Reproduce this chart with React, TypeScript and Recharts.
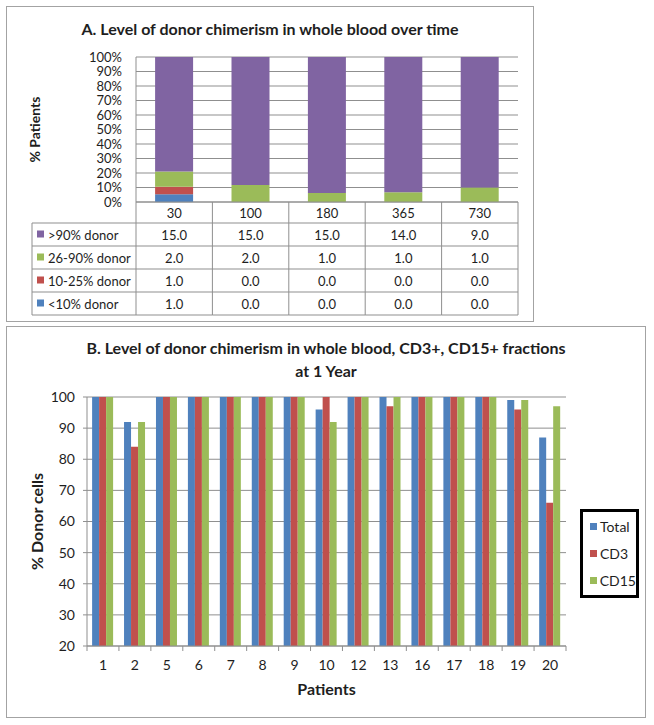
import React from 'react';
import { BarChart, Bar, XAxis, YAxis, CartesianGrid, Legend } from 'recharts';

// Panel A: patients per chimerism level, by day after transplant
const days = ['30', '100', '180', '365', '730'];
const above90 = [15, 15, 15, 14, 9];
const from26to90 = [2, 2, 1, 1, 1];
const from10to25 = [1, 0, 0, 0, 0];
const below10 = [1, 0, 0, 0, 0];
const percentTicks = [0, 0.1, 0.2, 0.3, 0.4, 0.5, 0.6, 0.7, 0.8, 0.9, 1];

// Panel B: % donor cells at 1 year, per patient
const patients = ['1', '2', '5', '6', '7', '8', '9', '10', '12', '13', '16', '17', '18', '19', '20'];
const total = [100, 92, 100, 100, 100, 100, 100, 96, 100, 100, 100, 100, 100, 99, 87];
const cd3 = [100, 84, 100, 100, 100, 100, 100, 100, 100, 97, 100, 100, 100, 96, 66];
const cd15 = [100, 92, 100, 100, 100, 100, 100, 92, 100, 100, 100, 100, 100, 99, 97];
const donorTicks = [20, 30, 40, 50, 60, 70, 80, 90, 100];

const FONT = 'Lato, "Open Sans", sans-serif';
const GRID = '#8f8f8f';
const TEXT = '#1e1e1e';
const PANEL_BORDER = '1px solid #a3a3a3';

const seriesA = [
  { key: 'gt90', name: '>90% donor', color: '#8064A2', values: above90 },
  { key: 'mid', name: '26-90% donor', color: '#9BBB59', values: from26to90 },
  { key: 'low', name: '10-25% donor', color: '#C0504D', values: from10to25 },
  { key: 'lt10', name: '<10% donor', color: '#4F81BD', values: below10 },
];

const seriesB = [
  { key: 'total', name: 'Total', color: '#4F81BD', values: total },
  { key: 'cd3', name: 'CD3', color: '#C0504D', values: cd3 },
  { key: 'cd15', name: 'CD15', color: '#9BBB59', values: cd15 },
];

const dataA = days.map((day, i) => {
  const row: Record<string, string | number> = { day };
  seriesA.forEach((s) => (row[s.key] = s.values[i]));
  return row;
});

const dataB = patients.map((patient, i) => {
  const row: Record<string, string | number> = { patient };
  seriesB.forEach((s) => (row[s.key] = s.values[i]));
  return row;
});

// chart A geometry
const A_W = 528;
const A_H = 316;
const A_MARGIN = { top: 51, right: 16, bottom: 7, left: 0 };
const A_YAXIS_W = 130;
const A_BAND = (A_W - A_MARGIN.left - A_MARGIN.right - A_YAXIS_W) / days.length;
const HEAD_ROW = 21;
const ROW = 23;
const LEGEND_COL = 104;

// chart B geometry
const B_W = 640;
const B_H = 392;
const B_MARGIN = { top: 71, right: 80, bottom: 12, left: 0 };
const B_YAXIS_W = 81;
const B_BAND = (B_W - B_MARGIN.left - B_MARGIN.right - B_YAXIS_W) / patients.length;

// x-axis tick of chart A: draws the whole data-table column under each category
const TableTick = (props: any) => {
  const { x, y, payload } = props;
  const i = payload.index;
  const left = x - A_BAND / 2;
  const right = x + A_BAND / 2;
  const bottom = y + HEAD_ROW + ROW * seriesA.length;
  return (
    <g fontFamily={FONT} fontSize={13} fill={TEXT}>
      <line x1={right} y1={y} x2={right} y2={bottom} stroke={GRID} />
      <text x={x} y={y + HEAD_ROW / 2 + 5} textAnchor="middle" fill={TEXT}>
        {payload.value}
      </text>
      {seriesA.map((s, r) => {
        const top = y + HEAD_ROW + r * ROW;
        return (
          <g key={s.key}>
            <line x1={left} y1={top} x2={right} y2={top} stroke={GRID} />
            <text x={x} y={top + ROW / 2 + 5} textAnchor="middle" fill={TEXT}>
              {s.values[i].toFixed(1)}
            </text>
          </g>
        );
      })}
      <line x1={left} y1={bottom} x2={right} y2={bottom} stroke={GRID} />
      {i === 0 && (
        <g>
          <line x1={left} y1={y} x2={left} y2={bottom} stroke={GRID} />
          <line x1={left - LEGEND_COL} y1={y + HEAD_ROW} x2={left - LEGEND_COL} y2={bottom} stroke={GRID} />
          {seriesA.map((s, r) => {
            const top = y + HEAD_ROW + r * ROW;
            return (
              <g key={s.key}>
                <line x1={left - LEGEND_COL} y1={top} x2={left} y2={top} stroke={GRID} />
                <rect x={left - LEGEND_COL + 5} y={top + ROW / 2 - 4} width={7} height={7} fill={s.color} />
                <text x={left - LEGEND_COL + 16} y={top + ROW / 2 + 5} fill={TEXT}>
                  {s.name}
                </text>
              </g>
            );
          })}
          <line x1={left - LEGEND_COL} y1={bottom} x2={left} y2={bottom} stroke={GRID} />
        </g>
      )}
    </g>
  );
};

const PatientTick = (props: any) => {
  const { x, y, payload } = props;
  const last = payload.index === patients.length - 1;
  return (
    <g>
      <line x1={x - B_BAND / 2} y1={y} x2={x - B_BAND / 2} y2={y + 5} stroke={GRID} />
      {last && <line x1={x + B_BAND / 2} y1={y} x2={x + B_BAND / 2} y2={y + 5} stroke={GRID} />}
      <text x={x} y={y + 24} textAnchor="middle" fontFamily={FONT} fontSize={14} fill={TEXT}>
        {payload.value}
      </text>
    </g>
  );
};

const LegendBox = ({ payload }: any) => {
  const items = [...(payload || [])].sort(
    (a: any, b: any) =>
      seriesB.findIndex((s) => s.key === a.dataKey) - seriesB.findIndex((s) => s.key === b.dataKey)
  );
  return (
    <div
      style={{
        border: '3px solid #000',
        background: '#fff',
        padding: '1px 0 1px 7px',
        fontFamily: FONT,
        fontSize: 14,
        color: TEXT,
      }}
    >
      {items.map((p: any) => (
        <div key={p.dataKey} style={{ display: 'flex', alignItems: 'center', height: 27 }}>
          <span style={{ width: 7, height: 7, background: p.color, marginRight: 3, display: 'inline-block' }} />
          {p.value}
        </div>
      ))}
    </div>
  );
};

const verticalLabel = (text: string, x: number, size: number) => (props: any) => {
  const { viewBox } = props;
  const cy = viewBox.y + viewBox.height / 2;
  return (
    <text
      x={x}
      y={cy}
      transform={`rotate(-90, ${x}, ${cy})`}
      textAnchor="middle"
      fontFamily={FONT}
      fontWeight="bold"
      fontSize={size}
      fill={TEXT}
    >
      {text}
    </text>
  );
};

const titleStyle: React.CSSProperties = {
  position: 'absolute',
  left: 0,
  width: '100%',
  textAlign: 'center',
  fontFamily: FONT,
  fontWeight: 'bold',
  fontSize: 16,
  color: TEXT,
};

export default function App() {
  return (
    <div style={{ position: 'absolute', left: 0, top: 0, width: 654, height: 725, background: '#fff' }}>
      <div
        style={{ position: 'absolute', left: 6, top: 6, width: A_W, height: A_H, border: PANEL_BORDER, boxSizing: 'border-box' }}
      >
        <div style={{ ...titleStyle, top: 12, lineHeight: '20px' }}>
          A. Level of donor chimerism in whole blood over time
        </div>
        <BarChart
          width={A_W}
          height={A_H}
          data={dataA}
          margin={A_MARGIN}
          stackOffset="expand"
          barCategoryGap="25%"
          style={{ position: 'absolute', left: -1, top: -1 }}
        >
          <CartesianGrid vertical={false} stroke={GRID} />
          <XAxis
            dataKey="day"
            height={113}
            interval={0}
            tickLine={false}
            tickSize={0}
            tickMargin={0}
            axisLine={{ stroke: GRID }}
            tick={<TableTick />}
          />
          <YAxis
            width={A_YAXIS_W}
            domain={[0, 1]}
            ticks={percentTicks}
            interval={0}
            tickFormatter={(v: number) => `${Math.round(v * 100)}%`}
            tickLine={false}
            tickSize={0}
            tickMargin={14}
            axisLine={{ stroke: GRID }}
            tick={{ fill: TEXT, fontSize: 13, fontFamily: FONT }}
            label={{ content: verticalLabel('% Patients', 34, 14) }}
          />
          {[...seriesA].reverse().map((s) => (
            <Bar key={s.key} dataKey={s.key} name={s.name} stackId="a" fill={s.color} isAnimationActive={false} />
          ))}
        </BarChart>
      </div>

      <div
        style={{ position: 'absolute', left: 6, top: 326, width: B_W, height: B_H, border: PANEL_BORDER, boxSizing: 'border-box' }}
      >
        <div style={{ ...titleStyle, top: 9, lineHeight: '23px' }}>
          B. Level of donor chimerism in whole blood, CD3+, CD15+ fractions
          <br />
          at 1 Year
        </div>
        <BarChart
          width={B_W}
          height={B_H}
          data={dataB}
          margin={B_MARGIN}
          barCategoryGap="16%"
          barGap={0}
          style={{ position: 'absolute', left: -1, top: -1 }}
        >
          <CartesianGrid vertical={false} stroke={GRID} />
          <XAxis
            dataKey="patient"
            height={60}
            interval={0}
            tickLine={false}
            tickSize={0}
            tickMargin={0}
            axisLine={{ stroke: GRID }}
            tick={<PatientTick />}
            label={{
              content: (props: any) => (
                <text
                  x={props.viewBox.x + props.viewBox.width / 2}
                  y={props.viewBox.y + 49}
                  textAnchor="middle"
                  fontFamily={FONT}
                  fontWeight="bold"
                  fontSize={16}
                  fill={TEXT}
                >
                  Patients
                </text>
              ),
            }}
          />
          <YAxis
            width={B_YAXIS_W}
            domain={[20, 100]}
            ticks={donorTicks}
            interval={0}
            allowDataOverflow
            tickSize={4}
            tickMargin={8}
            tickLine={{ stroke: GRID }}
            axisLine={{ stroke: GRID }}
            tick={{ fill: TEXT, fontSize: 14, fontFamily: FONT }}
            label={{ content: verticalLabel('% Donor cells', 37, 16) }}
          />
          <Legend
            layout="vertical"
            align="center"
            verticalAlign="middle"
            content={<LegendBox />}
            wrapperStyle={{ left: 574, top: 183, width: 59 }}
          />
          {seriesB.map((s) => (
            <Bar key={s.key} dataKey={s.key} name={s.name} fill={s.color} isAnimationActive={false} />
          ))}
        </BarChart>
      </div>
    </div>
  );
}
